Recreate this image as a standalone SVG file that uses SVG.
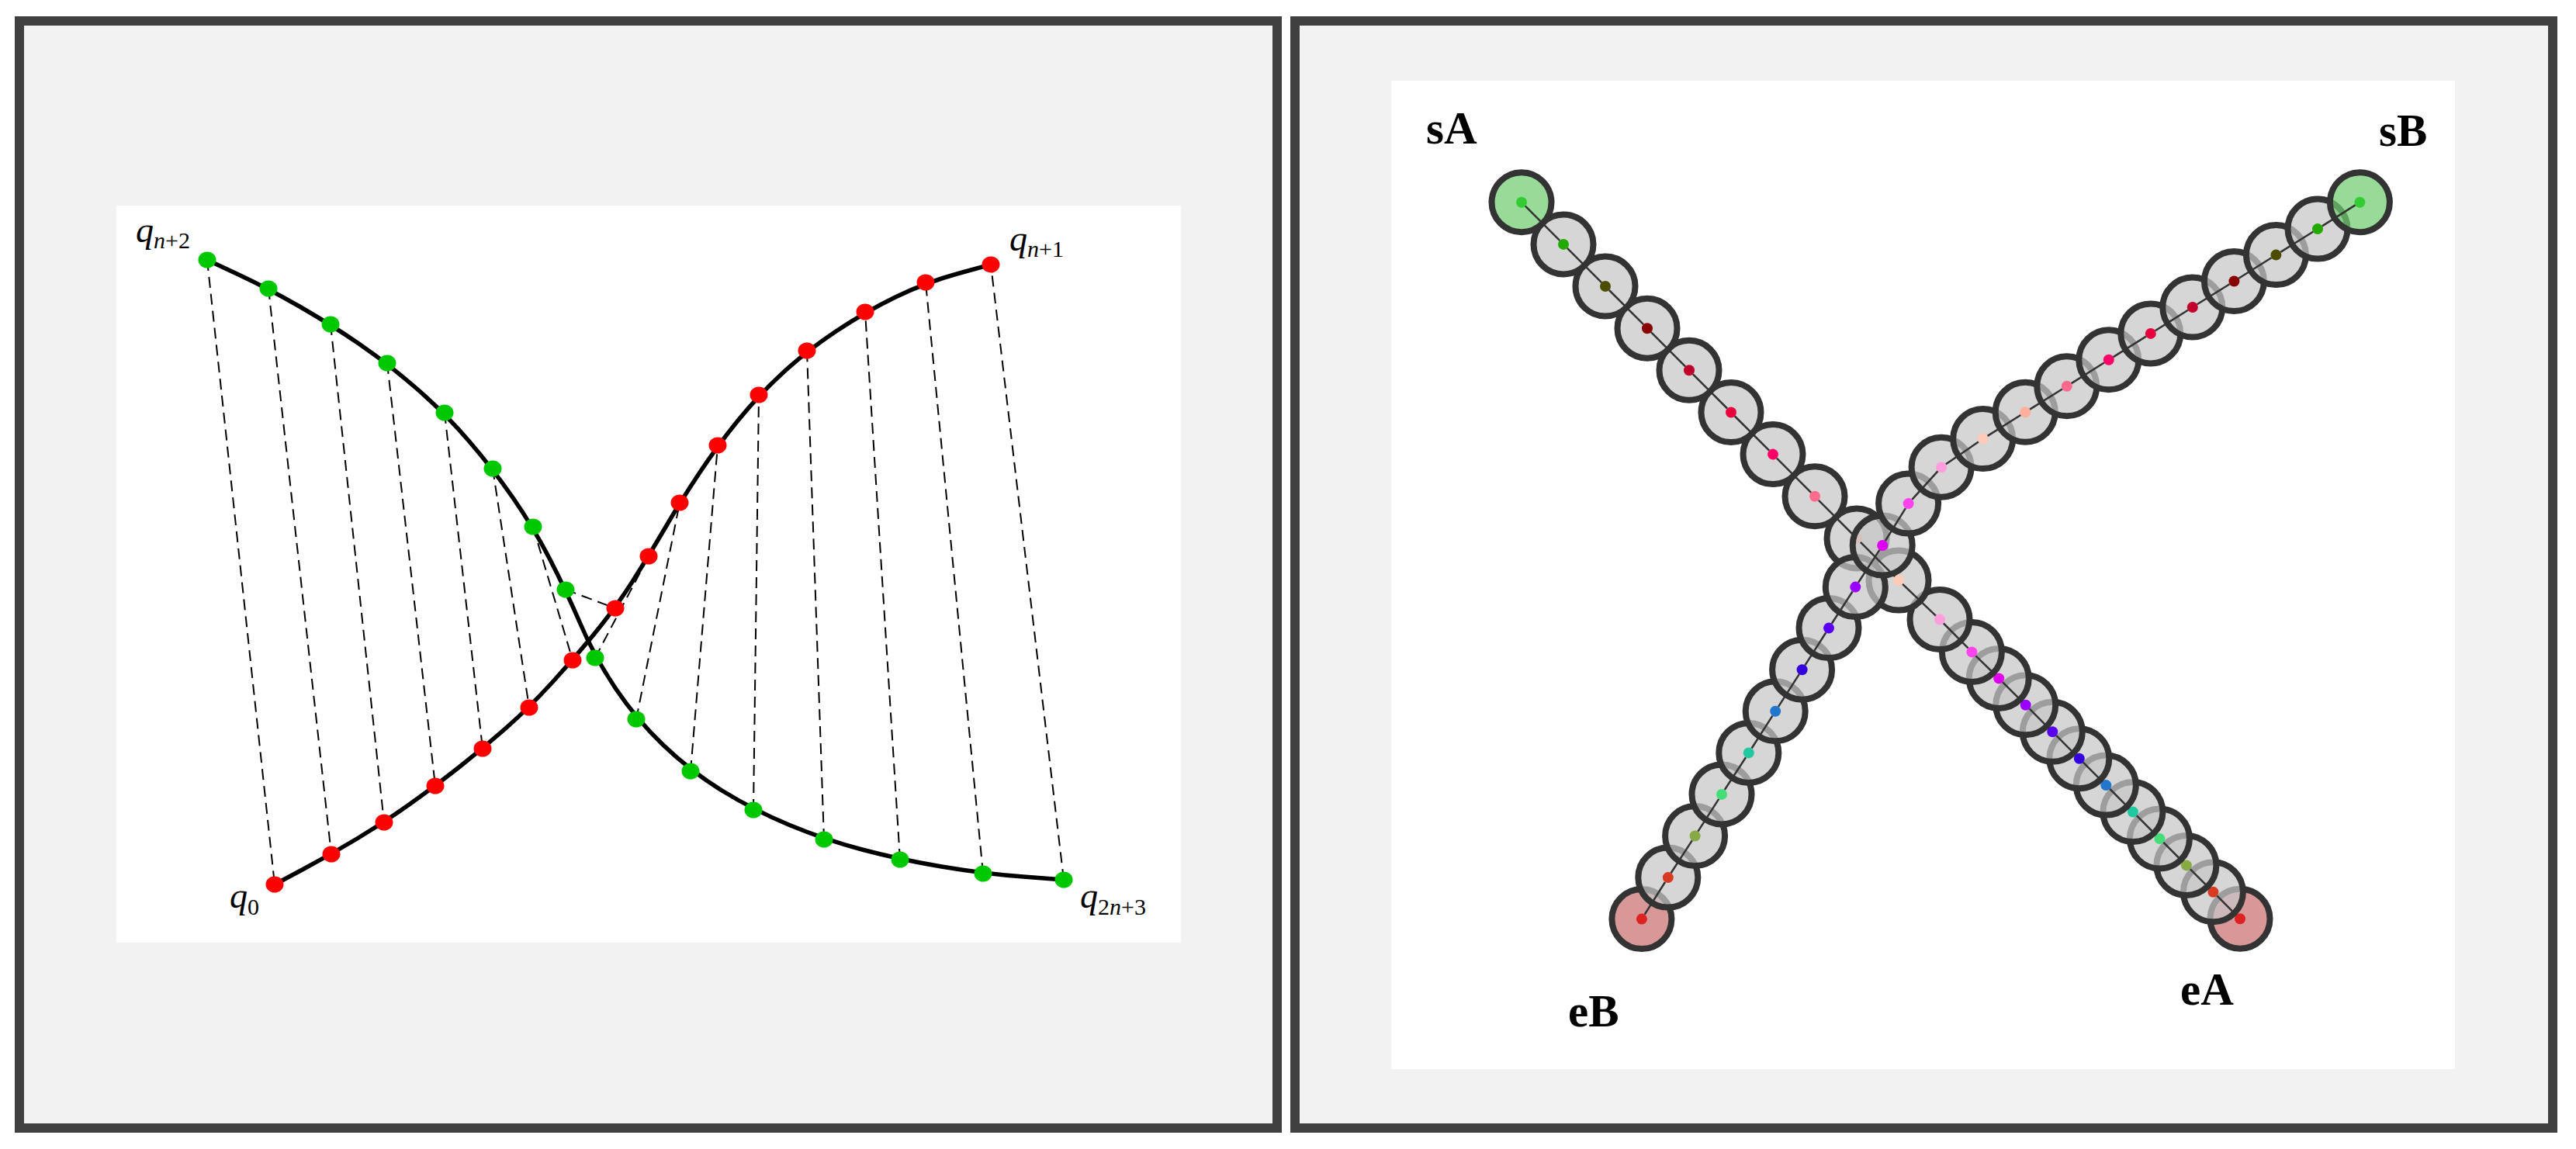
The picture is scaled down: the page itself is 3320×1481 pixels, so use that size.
<svg xmlns="http://www.w3.org/2000/svg" width="3320" height="1481" viewBox="0 0 3320 1481">
<style>
.panel{fill:#f2f2f2;stroke:#404040;stroke-width:12}
.plot{fill:#ffffff}
.curve{fill:none;stroke:#000;stroke-width:5.5;stroke-linejoin:round;stroke-linecap:round}
.dash{fill:none;stroke:#000;stroke-width:2;stroke-dasharray:14 8}
.g{fill:#00c800}
.r{fill:#ff0000}
.q{font-family:"Liberation Serif","Times New Roman",serif;font-style:italic;font-size:46px;fill:#000}
.sub{font-size:30px}
.rm{font-style:normal}
.ring{fill:#c6c6c6;fill-opacity:0.72;stroke:#333;stroke-width:8}
.st{fill:#70cd70}
.en{fill:#ca7070}
.link{fill:none;stroke:#333;stroke-width:2.5}
.lbl{font-family:"Liberation Serif","Times New Roman",serif;font-weight:bold;font-size:59px;fill:#000}
.c0{fill:#33cc33}.c1{fill:#22aa00}.c2{fill:#4d4d00}.c3{fill:#880000}.c4{fill:#c0002a}.c5{fill:#e8003c}
.c6{fill:#ff0066}.c7{fill:#ff6b8f}.c8{fill:#ffb09c}.c9{fill:#ffcab8}.c10{fill:#ff9edc}.c11{fill:#ff44ee}
.c12{fill:#dd00ee}.c13{fill:#9900ff}.c14{fill:#5a00f0}.c15{fill:#3300dd}.c16{fill:#2277cc}.c17{fill:#22c8a0}
.c18{fill:#44dd77}.c19{fill:#88aa44}.c20{fill:#d83a22}.c21{fill:#dd2222}
</style>

<!-- panels -->
<rect id="panel-left" class="panel" x="25" y="27" width="1621" height="1427"/>
<rect id="panel-right" class="panel" x="1669" y="27" width="1621" height="1427"/>
<rect id="plot-left" class="plot" x="150" y="265" width="1372" height="950"/>
<rect id="plot-right" class="plot" x="1793" y="104" width="1371" height="1274"/>

<!-- LEFT: dashed connectors -->
<g id="connectors-left">
<line class="dash" x1="267" y1="335" x2="354" y2="1140"/>
<line class="dash" x1="346" y1="372" x2="427" y2="1101"/>
<line class="dash" x1="426" y1="418" x2="495" y2="1060"/>
<line class="dash" x1="499" y1="468" x2="561" y2="1013"/>
<line class="dash" x1="573" y1="532" x2="622" y2="965"/>
<line class="dash" x1="635" y1="604" x2="682" y2="912"/>
<line class="dash" x1="687" y1="679" x2="738" y2="851"/>
<line class="dash" x1="729" y1="760" x2="793" y2="784"/>
<line class="dash" x1="767" y1="848" x2="836" y2="717"/>
<line class="dash" x1="820" y1="927" x2="876" y2="648"/>
<line class="dash" x1="890" y1="994" x2="925" y2="574"/>
<line class="dash" x1="971" y1="1044" x2="978" y2="509"/>
<line class="dash" x1="1062" y1="1082" x2="1040" y2="452"/>
<line class="dash" x1="1160" y1="1108" x2="1115" y2="402"/>
<line class="dash" x1="1267" y1="1126" x2="1193" y2="364"/>
<line class="dash" x1="1371" y1="1134" x2="1277" y2="341"/>
</g>

<!-- LEFT: curves -->
<g id="curves">
<path id="curve-green" class="curve" d="M267,335 L306.5,353.5 Q346,372 386,395 Q426,418 462.5,443 Q499,468 536,500 Q573,532 604,568 Q635,604 661,641.5 Q687,679 708,719.5 Q729,760 748,804 Q767,848 793.5,887.5 Q820,927 855,960.5 Q890,994 930.5,1019 Q971,1044 1016.5,1063 Q1062,1082 1111,1095 Q1160,1108 1213.5,1117 Q1267,1126 1319,1130 L1371,1134"/>
<path id="curve-red" class="curve" d="M354,1140 L390.5,1120.5 Q427,1101 461,1080.5 Q495,1060 528,1036.5 Q561,1013 591.5,989 Q622,965 652,938.5 Q682,912 710,881.5 Q738,851 765.5,817.5 Q793,784 814.5,750.5 Q836,717 856,682.5 Q876,648 900.5,611 Q925,574 951.5,541.5 Q978,509 1009,480.5 Q1040,452 1077.5,427 Q1115,402 1154,383 Q1193,364 1235,352.5 L1277,341"/>
</g>

<!-- LEFT: green points -->
<g id="G0"><ellipse class="g" cx="267" cy="335" rx="11.5" ry="10.5"/></g>
<g id="G1"><ellipse class="g" cx="346" cy="372" rx="11.5" ry="10.5"/></g>
<g id="G2"><ellipse class="g" cx="426" cy="418" rx="11.5" ry="10.5"/></g>
<g id="G3"><ellipse class="g" cx="499" cy="468" rx="11.5" ry="10.5"/></g>
<g id="G4"><ellipse class="g" cx="573" cy="532" rx="11.5" ry="10.5"/></g>
<g id="G5"><ellipse class="g" cx="635" cy="604" rx="11.5" ry="10.5"/></g>
<g id="G6"><ellipse class="g" cx="687" cy="679" rx="11.5" ry="10.5"/></g>
<g id="G7"><ellipse class="g" cx="729" cy="760" rx="11.5" ry="10.5"/></g>
<g id="G8"><ellipse class="g" cx="767" cy="848" rx="11.5" ry="10.5"/></g>
<g id="G9"><ellipse class="g" cx="820" cy="927" rx="11.5" ry="10.5"/></g>
<g id="G10"><ellipse class="g" cx="890" cy="994" rx="11.5" ry="10.5"/></g>
<g id="G11"><ellipse class="g" cx="971" cy="1044" rx="11.5" ry="10.5"/></g>
<g id="G12"><ellipse class="g" cx="1062" cy="1082" rx="11.5" ry="10.5"/></g>
<g id="G13"><ellipse class="g" cx="1160" cy="1108" rx="11.5" ry="10.5"/></g>
<g id="G14"><ellipse class="g" cx="1267" cy="1126" rx="11.5" ry="10.5"/></g>
<g id="G15"><ellipse class="g" cx="1371" cy="1134" rx="11.5" ry="10.5"/></g>

<!-- LEFT: red points -->
<g id="R0"><ellipse class="r" cx="354" cy="1140" rx="11.5" ry="10.5"/></g>
<g id="R1"><ellipse class="r" cx="427" cy="1101" rx="11.5" ry="10.5"/></g>
<g id="R2"><ellipse class="r" cx="495" cy="1060" rx="11.5" ry="10.5"/></g>
<g id="R3"><ellipse class="r" cx="561" cy="1013" rx="11.5" ry="10.5"/></g>
<g id="R4"><ellipse class="r" cx="622" cy="965" rx="11.5" ry="10.5"/></g>
<g id="R5"><ellipse class="r" cx="682" cy="912" rx="11.5" ry="10.5"/></g>
<g id="R6"><ellipse class="r" cx="738" cy="851" rx="11.5" ry="10.5"/></g>
<g id="R7"><ellipse class="r" cx="793" cy="784" rx="11.5" ry="10.5"/></g>
<g id="R8"><ellipse class="r" cx="836" cy="717" rx="11.5" ry="10.5"/></g>
<g id="R9"><ellipse class="r" cx="876" cy="648" rx="11.5" ry="10.5"/></g>
<g id="R10"><ellipse class="r" cx="925" cy="574" rx="11.5" ry="10.5"/></g>
<g id="R11"><ellipse class="r" cx="978" cy="509" rx="11.5" ry="10.5"/></g>
<g id="R12"><ellipse class="r" cx="1040" cy="452" rx="11.5" ry="10.5"/></g>
<g id="R13"><ellipse class="r" cx="1115" cy="402" rx="11.5" ry="10.5"/></g>
<g id="R14"><ellipse class="r" cx="1193" cy="364" rx="11.5" ry="10.5"/></g>
<g id="R15"><ellipse class="r" cx="1277" cy="341" rx="11.5" ry="10.5"/></g>

<!-- LEFT: labels -->
<g id="labels-left">
<text class="q" x="175" y="312">q<tspan class="sub" dy="8">n</tspan><tspan class="sub rm">+2</tspan></text>
<text class="q" x="1301" y="323">q<tspan class="sub" dy="8">n</tspan><tspan class="sub rm">+1</tspan></text>
<text class="q" x="296" y="1170">q<tspan class="sub rm" dy="9">0</tspan></text>
<text class="q" x="1392" y="1170">q<tspan class="sub rm" dy="9">2</tspan><tspan class="sub">n</tspan><tspan class="sub rm">+3</tspan></text>
</g>

<!-- RIGHT: chain A (drawn end to start) -->
<g id="chainA">
<g id="A21"><circle class="ring en" cx="2887" cy="1184.2" r="38.5"/><circle class="c21" cx="2887" cy="1184.2" r="7"/></g>
<g id="A20"><circle class="ring" cx="2852.4" cy="1149.8" r="38.5"/><circle class="c20" cx="2852.4" cy="1149.8" r="7"/></g>
<g id="A19"><circle class="ring" cx="2817.9" cy="1115.4" r="38.5"/><circle class="c19" cx="2817.9" cy="1115.4" r="7"/></g>
<g id="A18"><circle class="ring" cx="2783.4" cy="1081" r="38.5"/><circle class="c18" cx="2783.4" cy="1081" r="7"/></g>
<g id="A17"><circle class="ring" cx="2748.9" cy="1046.5" r="38.5"/><circle class="c17" cx="2748.9" cy="1046.5" r="7"/></g>
<g id="A16"><circle class="ring" cx="2714.3" cy="1012.1" r="38.5"/><circle class="c16" cx="2714.3" cy="1012.1" r="7"/></g>
<g id="A15"><circle class="ring" cx="2679.8" cy="977.7" r="38.5"/><circle class="c15" cx="2679.8" cy="977.7" r="7"/></g>
<g id="A14"><circle class="ring" cx="2645.3" cy="943.3" r="38.5"/><circle class="c14" cx="2645.3" cy="943.3" r="7"/></g>
<g id="A13"><circle class="ring" cx="2610.7" cy="908.8" r="38.5"/><circle class="c13" cx="2610.7" cy="908.8" r="7"/></g>
<g id="A12"><circle class="ring" cx="2576.2" cy="874.4" r="38.5"/><circle class="c12" cx="2576.2" cy="874.4" r="7"/></g>
<g id="A11"><circle class="ring" cx="2541.4" cy="840.4" r="38.5"/><circle class="c11" cx="2541.4" cy="840.4" r="7"/></g>
<g id="A10"><circle class="ring" cx="2500" cy="798.5" r="38.5"/><circle class="c10" cx="2500" cy="798.5" r="7"/></g>
<g id="A9"><circle class="ring" cx="2447" cy="748.1" r="38.5"/><circle class="c9" cx="2447" cy="748.1" r="7"/></g>
<g id="A8"><circle class="ring" cx="2393" cy="693.9" r="38.5"/><circle class="c8" cx="2393" cy="693.9" r="7"/></g>
<g id="A7"><circle class="ring" cx="2339" cy="639.8" r="38.5"/><circle class="c7" cx="2339" cy="639.8" r="7"/></g>
<g id="A6"><circle class="ring" cx="2285" cy="585.6" r="38.5"/><circle class="c6" cx="2285" cy="585.6" r="7"/></g>
<g id="A5"><circle class="ring" cx="2231" cy="531.5" r="38.5"/><circle class="c5" cx="2231" cy="531.5" r="7"/></g>
<g id="A4"><circle class="ring" cx="2177" cy="477.3" r="38.5"/><circle class="c4" cx="2177" cy="477.3" r="7"/></g>
<g id="A3"><circle class="ring" cx="2123" cy="423.2" r="38.5"/><circle class="c3" cx="2123" cy="423.2" r="7"/></g>
<g id="A2"><circle class="ring" cx="2069" cy="369" r="38.5"/><circle class="c2" cx="2069" cy="369" r="7"/></g>
<g id="A1"><circle class="ring" cx="2015" cy="314.9" r="38.5"/><circle class="c1" cx="2015" cy="314.9" r="7"/></g>
<g id="A0"><circle class="ring st" cx="1961" cy="260.7" r="38.5"/><circle class="c0" cx="1961" cy="260.7" r="7"/></g>
</g>

<!-- RIGHT: chain B (drawn end to start) -->
<g id="chainB">
<g id="B21"><circle class="ring en" cx="2115.9" cy="1184.6" r="38.5"/><circle class="c21" cx="2115.9" cy="1184.6" r="7"/></g>
<g id="B20"><circle class="ring" cx="2149.8" cy="1131.1" r="38.5"/><circle class="c20" cx="2149.8" cy="1131.1" r="7"/></g>
<g id="B19"><circle class="ring" cx="2184.6" cy="1077.5" r="38.5"/><circle class="c19" cx="2184.6" cy="1077.5" r="7"/></g>
<g id="B18"><circle class="ring" cx="2219" cy="1023.9" r="38.5"/><circle class="c18" cx="2219" cy="1023.9" r="7"/></g>
<g id="B17"><circle class="ring" cx="2253.8" cy="970.4" r="38.5"/><circle class="c17" cx="2253.8" cy="970.4" r="7"/></g>
<g id="B16"><circle class="ring" cx="2288.2" cy="916.8" r="38.5"/><circle class="c16" cx="2288.2" cy="916.8" r="7"/></g>
<g id="B15"><circle class="ring" cx="2322.6" cy="863.2" r="38.5"/><circle class="c15" cx="2322.6" cy="863.2" r="7"/></g>
<g id="B14"><circle class="ring" cx="2357" cy="809.6" r="38.5"/><circle class="c14" cx="2357" cy="809.6" r="7"/></g>
<g id="B13"><circle class="ring" cx="2391.3" cy="756.6" r="38.5"/><circle class="c13" cx="2391.3" cy="756.6" r="7"/></g>
<g id="B12"><circle class="ring" cx="2426.2" cy="703" r="38.5"/><circle class="c12" cx="2426.2" cy="703" r="7"/></g>
<g id="B11"><circle class="ring" cx="2459.6" cy="649.1" r="38.5"/><circle class="c11" cx="2459.6" cy="649.1" r="7"/></g>
<g id="B10"><circle class="ring" cx="2502.1" cy="602.2" r="38.5"/><circle class="c10" cx="2502.1" cy="602.2" r="7"/></g>
<g id="B9"><circle class="ring" cx="2555.7" cy="565.6" r="38.5"/><circle class="c9" cx="2555.7" cy="565.6" r="7"/></g>
<g id="B8"><circle class="ring" cx="2610.2" cy="531.3" r="38.5"/><circle class="c8" cx="2610.2" cy="531.3" r="7"/></g>
<g id="B7"><circle class="ring" cx="2663.8" cy="497.8" r="38.5"/><circle class="c7" cx="2663.8" cy="497.8" r="7"/></g>
<g id="B6"><circle class="ring" cx="2717.8" cy="463.8" r="38.5"/><circle class="c6" cx="2717.8" cy="463.8" r="7"/></g>
<g id="B5"><circle class="ring" cx="2771.8" cy="429.9" r="38.5"/><circle class="c5" cx="2771.8" cy="429.9" r="7"/></g>
<g id="B4"><circle class="ring" cx="2825.8" cy="396" r="38.5"/><circle class="c4" cx="2825.8" cy="396" r="7"/></g>
<g id="B3"><circle class="ring" cx="2879.4" cy="362.5" r="38.5"/><circle class="c3" cx="2879.4" cy="362.5" r="7"/></g>
<g id="B2"><circle class="ring" cx="2933.4" cy="328.6" r="38.5"/><circle class="c2" cx="2933.4" cy="328.6" r="7"/></g>
<g id="B1"><circle class="ring" cx="2987" cy="295.1" r="38.5"/><circle class="c1" cx="2987" cy="295.1" r="7"/></g>
<g id="B0"><circle class="ring st" cx="3041.4" cy="260.7" r="38.5"/><circle class="c0" cx="3041.4" cy="260.7" r="7"/></g>
</g>

<!-- RIGHT: connectors -->
<g id="connectors-right">
<path id="linkA" class="link" d="M1965.9,265.7 L2010.1,309.9 M2019.9,319.9 L2064.1,364.1 M2073.9,374 L2118.1,418.2 M2127.9,428.2 L2172.1,472.4 M2181.9,482.3 L2226.1,526.5 M2235.9,536.5 L2280.1,580.7 M2289.9,590.6 L2334.1,634.8 M2343.9,644.8 L2388.1,689 M2397.9,698.9 L2442.1,743.1 M2452.1,752.9 L2494.9,793.7 M2504.9,803.5 L2536.5,835.4 M2546.4,845.3 L2571.2,869.5 M2581.2,879.3 L2605.7,903.9 M2615.7,913.7 L2640.2,938.3 M2650.3,948.2 L2674.8,972.8 M2684.8,982.6 L2709.3,1007.2 M2719.3,1017 L2743.8,1041.6 M2753.9,1051.4 L2778.4,1076 M2788.4,1085.9 L2812.9,1110.5 M2822.9,1120.3 L2847.4,1144.9 M2857.4,1154.7 L2881.9,1179.3"/>
<path id="linkB" class="link" d="M3035.5,264.4 L2992.9,291.4 M2981.1,298.8 L2939.3,324.9 M2927.5,332.3 L2885.3,358.8 M2873.5,366.2 L2831.7,392.3 M2819.9,399.7 L2777.7,426.2 M2765.9,433.6 L2723.7,460.1 M2711.9,467.5 L2669.7,494.1 M2657.9,501.5 L2616.1,527.6 M2604.3,535 L2561.6,561.9 M2549.9,569.5 L2507.9,598.3 M2497.4,607.4 L2464.3,643.9 M2455.9,655.1 L2429.9,697 M2422.4,708.9 L2395.1,750.7 M2387.5,762.5 L2360.8,803.7 M2353.2,815.5 L2326.4,857.3 M2318.8,869.1 L2292,910.9 M2284.4,922.7 L2257.6,964.5 M2250,976.3 L2222.8,1018 M2215.2,1029.8 L2188.4,1071.6 M2180.8,1083.4 L2153.6,1125.2 M2146,1137 L2119.7,1178.7"/>
</g>

<!-- RIGHT: labels -->
<g id="labels-right">
<text class="lbl" x="1838" y="185">sA</text>
<text class="lbl" x="3066" y="188">sB</text>
<text class="lbl" x="2021" y="1323">eB</text>
<text class="lbl" x="2810" y="1295">eA</text>
</g>
</svg>
